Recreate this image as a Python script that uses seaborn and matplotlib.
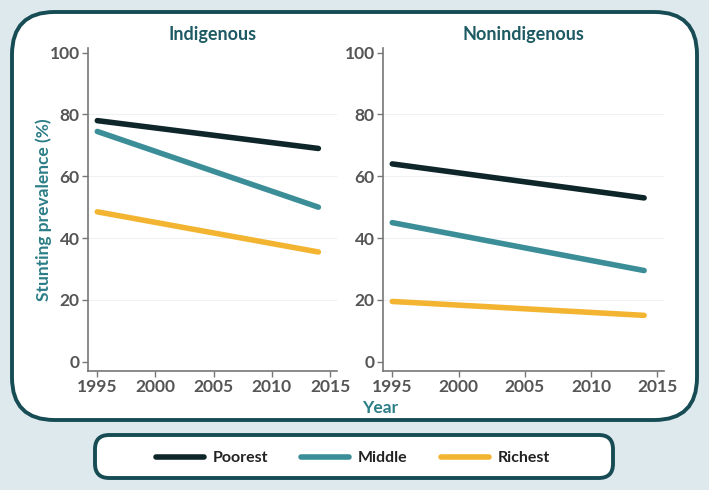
import matplotlib.pyplot as plt
import pandas as pd
import seaborn as sns
from matplotlib.patches import FancyBboxPatch
from matplotlib.lines import Line2D

years = [1995, 2014]
groups = ['Poorest', 'Middle', 'Richest']
indigenous = {'Poorest': [78, 69], 'Middle': [74.5, 50], 'Richest': [48.5, 35.5]}
nonindigenous = {'Poorest': [64, 53], 'Middle': [45, 29.5], 'Richest': [19.5, 15]}
panel_titles = ['Indigenous', 'Nonindigenous']
colors = {'Poorest': '#0e2629', 'Middle': '#3b8e97', 'Richest': '#f3b531'}

rows = []
for title, src in zip(panel_titles, [indigenous, nonindigenous]):
    for g in groups:
        for yr, v in zip(years, src[g]):
            rows.append({'panel': title, 'group': g, 'year': yr, 'value': v})
df = pd.DataFrame(rows)

sns.set_style("white")
plt.rcParams['font.family'] = ['Lato', 'DejaVu Sans']

bg = '#dde9ec'
dark = '#174c55'
title_col = '#1d5a63'
tick_col = '#555555'

fig = plt.figure(figsize=(7.09, 4.9), dpi=100)
fig.patch.set_facecolor(bg)
W, H = 709, 490

# outer rounded panel and legend frame
outer = FancyBboxPatch((12 / W, 1 - 420 / H), (697 - 12) / W, (420 - 12) / H,
                       boxstyle="round,pad=0,rounding_size=0.06",
                       transform=fig.transFigure, facecolor='white',
                       edgecolor=dark, linewidth=2.8, mutation_aspect=W / H,
                       zorder=-2)
fig.patches.append(outer)
legbox = FancyBboxPatch((95 / W, 1 - 478 / H), (613 - 95) / W, (478 - 435) / H,
                        boxstyle="round,pad=0,rounding_size=0.02",
                        transform=fig.transFigure, facecolor='white',
                        edgecolor=dark, linewidth=2.8, mutation_aspect=W / H,
                        zorder=-2)
fig.patches.append(legbox)

# axes positions in pixels: (left, right)
spans = [(88, 337), (383, 664)]
xlims = [(1994.2, 2015.6), (1994.3, 2015.5)]
top_px, bot_px = 48, 371
axes = []
for (l, r), title, xl in zip(spans, panel_titles, xlims):
    ax = fig.add_axes([l / W, 1 - bot_px / H, (r - l) / W, (bot_px - top_px) / H])
    ax.set_facecolor('none')
    sub = df[df['panel'] == title]
    sns.lineplot(data=sub, x='year', y='value', hue='group', hue_order=groups,
                 palette=colors, linewidth=4, legend=False, ax=ax,
                 solid_capstyle='round')
    ax.set_xlim(*xl)
    ax.set_ylim(-3, 101.5)
    ax.set_xticks([1995, 2000, 2005, 2010, 2015])
    ax.set_yticks([0, 20, 40, 60, 80, 100])
    for y in [20, 40, 60, 80]:
        ax.axhline(y, color='#eef1f4', linewidth=0.8, zorder=0)
    ax.set_xlabel('')
    ax.set_ylabel('')
    for s in ['top', 'right']:
        ax.spines[s].set_visible(False)
    for s in ['left', 'bottom']:
        ax.spines[s].set_color('#777777')
        ax.spines[s].set_linewidth(1.2)
    ax.tick_params(axis='both', bottom=True, left=True, colors='#777777',
                   length=4, width=1, labelcolor=tick_col, labelsize=12.5, pad=2)
    for t in ax.get_xticklabels() + ax.get_yticklabels():
        t.set_fontweight('bold')
    ax.set_title(title, color=title_col, fontsize=13, fontweight='bold', pad=6)
    axes.append(ax)

fig.text(44 / W, 1 - 210 / H, 'Stunting prevalence (%)', rotation=90,
         ha='center', va='center', color='#2b7d87', fontsize=12.5, fontweight='bold')
fig.text(380 / W, 1 - 408 / H, 'Year', ha='center', va='center',
         color='#2b7d87', fontsize=12.5, fontweight='bold')

handles = [Line2D([0], [0], color=colors[g], linewidth=4) for g in groups]
fig.legend(handles, groups, loc='center', bbox_to_anchor=(353 / W, 1 - 458 / H),
           ncol=3, frameon=False, handlelength=3.0, handletextpad=0.55,
           columnspacing=2.1, prop={'weight': 'bold', 'size': 11.5},
           labelcolor='#222222')

fig.savefig('out.png', dpi=100, facecolor=bg)
